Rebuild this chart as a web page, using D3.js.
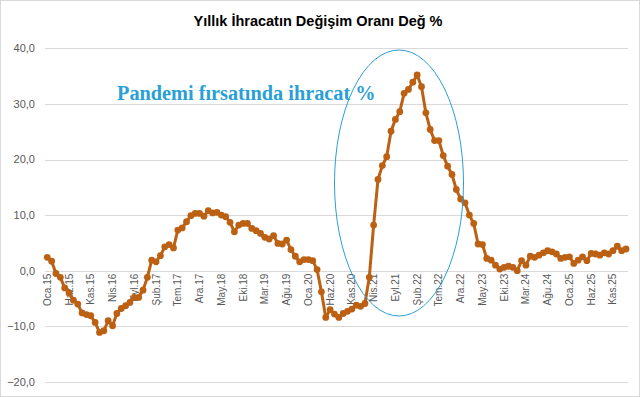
<!DOCTYPE html>
<meta charset="utf-8">
<head>
  <style>
    html, body { margin: 0; padding: 0; background: #fff; }
    svg { display: block; }
  </style>
</head>
<script src="https://cdn.jsdelivr.net/npm/d3@7"></script>
<body>
<script>
  // yearly change of exports, monthly, Oca.15 .. Şub.26
  var months = ["Oca","Şub","Mar","Nis","May","Haz","Tem","Ağu","Eyl","Eki","Kas","Ara"];
  var years = [15,16,17,18,19,20,21,22,23,24,25,26];
  var v2015 = [2.4, 1.7, -0.5, -1.2, -3.1, -4.0, -5.3, -6.0, -7.6, -7.9, -8.1, -9.3];
  var v2016 = [-11.1, -10.8, -9.0, -9.9, -7.7, -6.8, -6.3, -5.7, -4.8, -4.8, -3.5, -1.2];
  var v2017 = [1.9, 1.6, 2.7, 4.3, 4.7, 4.1, 7.3, 7.7, 8.8, 9.9, 10.3, 10.3];
  var v2018 = [9.8, 10.8, 10.4, 10.5, 10.0, 9.7, 8.7, 7.0, 8.2, 8.5, 8.5, 7.6];
  var v2019 = [7.2, 6.7, 6.0, 5.7, 6.3, 4.9, 4.8, 5.5, 3.8, 2.6, 1.6, 2.0];
  var v2020 = [2.0, 1.8, 0.2, -3.8, -8.4, -7.0, -7.8, -8.4, -7.7, -7.3, -6.9, -6.2];
  var v2021 = [-6.4, -5.9, -1.2, 8.2, 16.4, 18.9, 20.5, 25.1, 27.2, 28.6, 31.9, 32.6];
  var v2022 = [33.9, 35.2, 33.1, 28.4, 25.4, 23.4, 23.4, 20.7, 18.8, 17.3, 14.6, 12.9];
  var v2023 = [12.2, 10.0, 8.5, 4.8, 4.7, 2.2, 1.9, 1.0, 0.3, 0.6, 0.8, 0.6];
  var v2024 = [0.0, 1.8, 1.0, 2.6, 2.4, 2.8, 3.2, 3.6, 3.4, 3.0, 2.2, 2.4];
  var v2025 = [2.5, 1.3, 1.9, 2.5, 1.8, 3.1, 3.0, 2.8, 3.2, 3.0, 3.6, 4.4];
  var v2026 = [3.6, 3.9];
  var yTicks = [-20, -10, 0, 10, 20, 30, 40];

  var values = [].concat(v2015, v2016, v2017, v2018, v2019, v2020,
                         v2021, v2022, v2023, v2024, v2025, v2026);
  var cats = values.map(function(d, i) {
    return months[i % 12] + "." + years[Math.floor(i / 12)];
  });

  var width = 640, height = 397;
  var col = "#BC6013";
  var blue = "#2A9FD6";

  var svg = d3.select("body").append("svg")
    .attr("width", width)
    .attr("height", height);

  svg.append("rect")
    .attr("x", 0.5).attr("y", 0.5)
    .attr("width", width - 1).attr("height", height - 1)
    .attr("fill", "#fff").attr("stroke", "#D9D9D9");

  var x = d3.scalePoint().domain(cats).range([45.1, 628.2]).padding(0.5);
  var y = d3.scaleLinear().domain([-20, 40]).range([381.9, 48.3]);

  // gridlines
  svg.append("g").selectAll("line")
    .data(yTicks).enter().append("line")
    .attr("x1", 45).attr("x2", 628)
    .attr("y1", function(d) { return Math.round(y(d)) + 0.5; })
    .attr("y2", function(d) { return Math.round(y(d)) + 0.5; })
    .attr("stroke", "#D9D9D9").attr("stroke-width", 1);

  // y labels
  svg.append("g").selectAll("text")
    .data(yTicks).enter().append("text")
    .attr("x", 35).attr("y", function(d) { return y(d); })
    .attr("dy", "0.35em")
    .attr("text-anchor", "end")
    .attr("font-family", "Liberation Sans, Arial, sans-serif")
    .attr("font-size", 11).attr("fill", "#595959")
    .text(function(d) { return d3.format(".1f")(d).replace(".", ","); });

  // x labels, every 5th month, hanging under the zero line
  var shown = cats.filter(function(d, i) { return i % 5 === 0; });
  svg.append("g").selectAll("text")
    .data(shown).enter().append("text")
    .attr("transform", function(d) { return "translate(" + x(d) + "," + (y(0) + 3) + ") rotate(-90)"; })
    .attr("dy", "0.35em")
    .attr("text-anchor", "end")
    .attr("font-family", "Liberation Sans, Arial, sans-serif")
    .attr("font-size", 10).attr("fill", "#595959")
    .text(function(d) { return d; });

  // line + markers
  var line = d3.line()
    .x(function(d, i) { return x(cats[i]); })
    .y(function(d) { return y(d); });

  svg.append("path")
    .datum(values)
    .attr("d", line)
    .attr("fill", "none")
    .attr("stroke", col)
    .attr("stroke-width", 3)
    .attr("stroke-linejoin", "round");

  svg.append("g").selectAll("circle")
    .data(values).enter().append("circle")
    .attr("cx", function(d, i) { return x(cats[i]); })
    .attr("cy", function(d) { return y(d); })
    .attr("r", 3.4)
    .attr("fill", col);

  // title
  svg.append("text")
    .attr("x", 318).attr("y", 26)
    .attr("text-anchor", "middle")
    .attr("font-family", "Liberation Sans, Arial, sans-serif")
    .attr("font-weight", "bold")
    .attr("font-size", 14.5).attr("fill", "#000")
    .text("Yıllık İhracatın Değişim Oranı Değ %");

  // annotation
  svg.append("ellipse")
    .attr("cx", 399).attr("cy", 183)
    .attr("rx", 64.5).attr("ry", 133)
    .attr("fill", "none")
    .attr("stroke", blue).attr("stroke-width", 1);

  svg.append("text")
    .attr("x", 117).attr("y", 100)
    .attr("font-family", "Liberation Serif, Times New Roman, serif")
    .attr("font-weight", "bold")
    .attr("font-size", 20.3).attr("fill", blue)
    .text("Pandemi fırsatında ihracat %");
</script>
</body>
